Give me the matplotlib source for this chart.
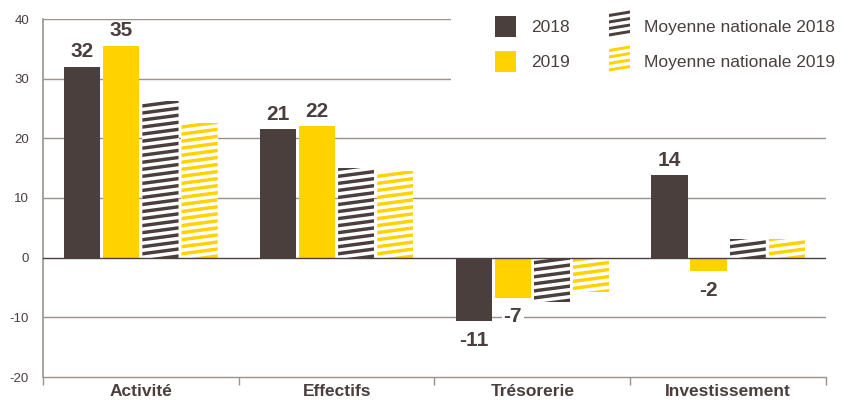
import numpy as np
import matplotlib
matplotlib.use("Agg")
import matplotlib.pyplot as plt
from matplotlib.patches import Rectangle, Polygon

plt.rcParams['font.family'] = ['Liberation Sans', 'DejaVu Sans']
plt.rcParams['axes.unicode_minus'] = False

# Données
categories = ["Activité", "Effectifs", "Trésorerie", "Investissement"]
val_2018 = [32, 21.5, -10.6, 13.8]
val_2019 = [35.5, 22, -6.7, -2.3]
moy_2018 = [26.2, 15, -7.4, 3.1]
moy_2019 = [22.5, 14.5, -5.8, 3.1]
labels_2018 = ["32", "21", "-11", "14"]
labels_2019 = ["35", "22", "-7", "-2"]
series_names = ["2018", "2019", "Moyenne nationale 2018", "Moyenne nationale 2019"]

dark = "#4b3f3e"
yellow = "#ffd200"
grid_col = "#9a928e"
txt_col = "#4b3f3e"

fig = plt.figure(figsize=(8.48, 4.0), dpi=100)
ax = fig.add_axes([43 / 848, 1 - 377 / 400, (826 - 43) / 848, (377 - 19) / 400])

x = np.arange(len(categories))
step = 0.2
w = 0.185


def striped_bars(ax, xpos, vals, color):
    # barres hachurées (rayures obliques épaisses)
    for xi, v in zip(xpos, vals):
        rect = Rectangle((xi - w / 2, 0), w, v, facecolor="white", edgecolor="none", zorder=3)
        ax.add_patch(rect)
        period = 1.18
        thick = 0.58
        rise = 0.8
        lo, hi = min(0, v) - 2, max(0, v) + 2
        y0 = lo
        while y0 < hi:
            poly = Polygon([(xi - w / 2, y0), (xi + w / 2, y0 + rise),
                            (xi + w / 2, y0 + rise + thick), (xi - w / 2, y0 + thick)],
                           closed=True, facecolor=color, edgecolor="none", zorder=4)
            ax.add_patch(poly)
            poly.set_clip_path(rect)
            y0 += period


ax.bar(x - 1.5 * step, val_2018, w, color=dark, zorder=3)
ax.bar(x - 0.5 * step, val_2019, w, color=yellow, zorder=3)
striped_bars(ax, x + 0.5 * step, moy_2018, dark)
striped_bars(ax, x + 1.5 * step, moy_2019, yellow)

# étiquettes de valeurs
for xs, vals, labs in [(x - 1.5 * step, val_2018, labels_2018), (x - 0.5 * step, val_2019, labels_2019)]:
    for xi, v, lab in zip(xs, vals, labs):
        if v >= 0:
            ax.annotate(lab, (xi, v), xytext=(0, 4), textcoords="offset points",
                        ha="center", va="bottom", fontsize=15, fontweight="bold", color=txt_col, zorder=6)
        else:
            ax.annotate(lab, (xi, v), xytext=(0, -7), textcoords="offset points",
                        ha="center", va="top", fontsize=15, fontweight="bold", color=txt_col, zorder=6,
                        bbox=dict(facecolor="white", edgecolor="none", pad=1.0))

ax.set_xlim(-0.5, len(categories) - 0.5)
ax.set_ylim(-20, 40)
ax.set_yticks(np.arange(-20, 41, 10))
for yv in np.arange(-10, 41, 10):
    ax.axhline(yv, color=dark if yv == 0 else grid_col, lw=1.0, zorder=1 if yv != 0 else 5)

ax.set_xticks(x)
ax.set_xticklabels(categories, fontsize=12.5, fontweight="bold", color=txt_col)
ax.set_xticks(np.arange(-0.5, len(categories), 1), minor=True)
ax.tick_params(axis="x", which="major", length=0, pad=5)
ax.tick_params(axis="x", which="minor", length=6, width=1, color=grid_col)
ax.tick_params(axis="y", length=0, pad=10, labelsize=9.5, labelcolor=txt_col)

for s in ["top", "right"]:
    ax.spines[s].set_visible(False)
ax.spines["left"].set_color(grid_col)
ax.spines["bottom"].set_color(grid_col)
ax.spines["left"].set_linewidth(1.2)
ax.spines["bottom"].set_linewidth(1.0)

# légende (coordonnées pixels)
lax = fig.add_axes([451 / 848, 1 - 85 / 400, 397 / 848, 85 / 400])
lax.set_xlim(451, 848)
lax.set_ylim(85, 0)
lax.axis("off")
lax.add_patch(Rectangle((451, 0), 397, 85, facecolor="white", edgecolor="none"))
lax.add_patch(Rectangle((495, 16), 21, 21, facecolor=dark, edgecolor="none"))
lax.add_patch(Rectangle((495, 51), 21, 21, facecolor=yellow, edgecolor="none"))
for yc, col in [(26, dark), (61, yellow)]:
    for k in range(4):
        yb = yc + 10.5 - k * 6.5
        lax.add_patch(Polygon([(609, yb), (630, yb - 3.5), (630, yb - 6.5), (609, yb - 3)],
                              closed=True, facecolor=col, edgecolor="none"))
lax.text(531, 27.5, series_names[0], fontsize=12.5, color=txt_col, va="center")
lax.text(531, 62.5, series_names[1], fontsize=12.5, color=txt_col, va="center")
lax.text(644, 27.5, series_names[2], fontsize=12.5, color=txt_col, va="center")
lax.text(644, 62.5, series_names[3], fontsize=12.5, color=txt_col, va="center")

fig.savefig("out.png", dpi=100)
